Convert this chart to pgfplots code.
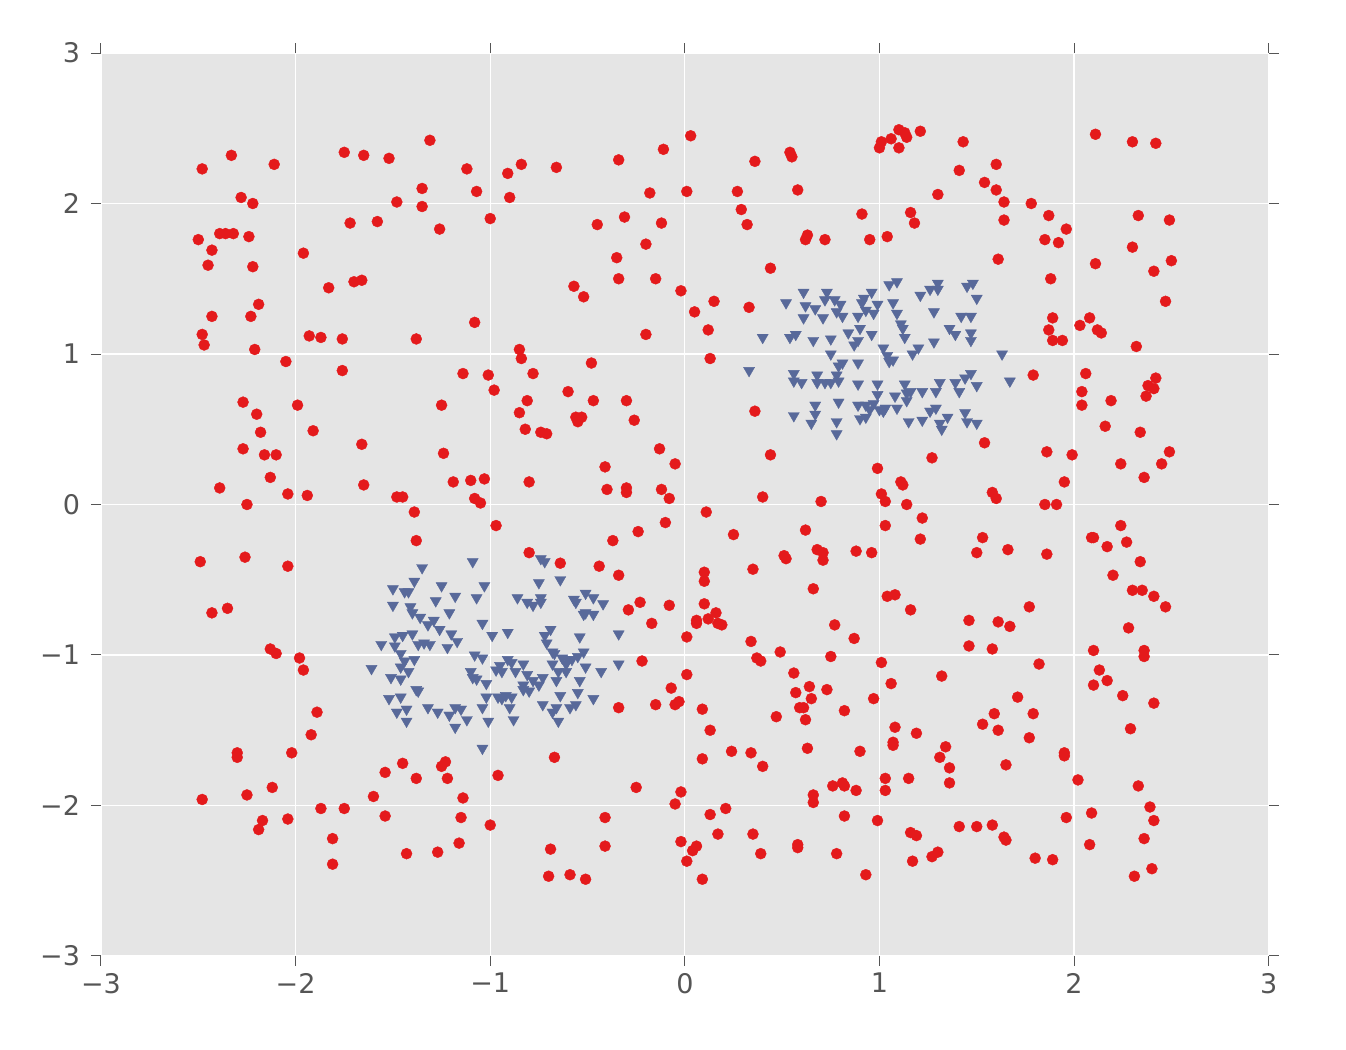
\documentclass[border=0pt]{standalone}
\usepackage{pgfplots}
\pgfplotsset{compat=1.18}
\usepackage{fontspec}
\setmainfont{DejaVu Sans}
\definecolor{bg}{HTML}{E5E5E5}
\definecolor{tk}{HTML}{555555}
\definecolor{redp}{HTML}{E41A1C}
\definecolor{bluep}{HTML}{58699A}
\begin{document}
\begin{tikzpicture}
\path[use as bounding box] (0,0) rectangle (673pt,525pt);
\begin{axis}[
  at={(50.5pt,47pt)}, anchor=south west,
  width=583.85pt, height=451.5pt, scale only axis,
  xmin=-3, xmax=3, ymin=-3, ymax=3,
  axis background/.style={fill=bg},
  axis line style={draw=none},
  grid=major, major grid style={white, line width=0.6pt},
  tick align=outside, tick pos=both, major tick length=5pt,
  every tick/.style={tk, line width=0.5pt},
  xtick={-3,-2,-1,0,1,2,3}, ytick={-3,-2,-1,0,1,2,3},
  xticklabels={−3,−2,−1,0,1,2,3},
  yticklabels={−3,−2,−1,0,1,2,3},
  ticklabel style={font=\fontsize{13.5}{16}\selectfont, text=tk},
  yticklabel style={xshift=-2pt},
]
\addplot[only marks, mark=*, mark size=2.75pt, mark options={fill=redp, draw=redp, line width=0.2pt}] coordinates {
(-2.48,2.23) (-2.33,2.32) (-2.50,1.76) (-2.43,1.69) (-2.45,1.59) (-2.39,1.80) (-2.36,1.80) (-2.32,1.80) (-2.28,2.04) (-2.22,2.00) (-2.24,1.78) (-2.22,1.58) (-2.19,1.33) (-2.23,1.25) (-2.43,1.25) (-2.48,1.13) (-2.47,1.06) (-2.21,1.03) (-2.11,2.26) (-2.05,0.95) (-2.27,0.68) (-2.20,0.60) (-2.18,0.48) (-2.27,0.37) (-2.16,0.33) (-2.10,0.33) (-2.13,0.18) (-2.39,0.11) (-2.04,0.07) (-2.25,0.00) (-2.49,-0.38) (-2.26,-0.35) (-2.04,-0.41) (-2.35,-0.69) (-2.43,-0.72) (-2.13,-0.96) (-2.10,-0.99) (-2.30,-1.65) (-2.30,-1.68) (-2.12,-1.88) (-2.25,-1.93) (-2.48,-1.96) (-2.17,-2.10) (-2.19,-2.16) (-2.04,-2.09)
(-1.96,1.67) (-1.93,1.12) (-1.87,1.11) (-1.83,1.44) (-1.99,0.66) (-1.91,0.49) (-1.94,0.06) (-1.98,-1.02) (-1.96,-1.10) (-1.89,-1.38) (-1.92,-1.53) (-2.02,-1.65) (-1.87,-2.02) (-1.81,-2.22) (-1.81,-2.39) (-1.75,-2.02) (-1.75,2.34) (-1.65,2.32) (-1.72,1.87) (-1.70,1.48) (-1.66,1.49) (-1.76,1.10) (-1.76,0.89) (-1.66,0.40) (-1.65,0.13) (-1.58,1.88) (-1.52,2.30) (-1.60,-1.94) (-1.54,-1.78) (-1.54,-2.07)
(-1.48,2.01) (-1.48,0.05) (-1.45,0.05) (-1.39,-0.05) (-1.38,-0.24) (-1.45,-1.72) (-1.43,-2.32) (-1.38,-1.82) (-1.38,1.10) (-1.35,2.10) (-1.35,1.98) (-1.31,2.42) (-1.26,1.83) (-1.25,0.66) (-1.24,0.34) (-1.19,0.15) (-1.27,-2.31) (-1.25,-1.74) (-1.23,-1.71) (-1.22,-1.82) (-1.12,2.23) (-1.07,2.08) (-1.14,0.87) (-1.08,1.21) (-1.10,0.16) (-1.08,0.04) (-1.05,0.01) (-1.03,0.17) (-1.15,-2.08) (-1.14,-1.95) (-1.16,-2.25)
(-1.00,1.90) (-0.91,2.20) (-0.90,2.04) (-0.84,2.26) (-1.01,0.86) (-0.98,0.76) (-0.85,1.03) (-0.84,0.97) (-0.85,0.61) (-0.81,0.69) (-0.78,0.87) (-0.82,0.50) (-0.74,0.48) (-0.71,0.47) (-0.80,0.15) (-0.97,-0.14) (-0.80,-0.32) (-0.96,-1.80) (-1.00,-2.13) (-0.67,-1.68) (-0.69,-2.29) (-0.70,-2.47) (-0.66,2.24) (-0.60,0.75) (-0.64,-0.39) (-0.57,1.45) (-0.52,1.38) (-0.56,0.58) (-0.53,0.58) (-0.55,0.55) (-0.59,-2.46) (-0.51,-2.49)
(-0.48,0.94) (-0.47,0.69) (-0.45,1.86) (-0.44,-0.41) (-0.41,0.25) (-0.40,0.10) (-0.37,-0.24) (-0.34,2.29) (-0.35,1.64) (-0.34,1.50) (-0.31,1.91) (-0.30,0.69) (-0.30,0.11) (-0.30,0.08) (-0.34,-0.47) (-0.29,-0.70) (-0.26,0.56) (-0.23,-0.65) (-0.24,-0.18) (-0.22,-1.04) (-0.25,-1.88) (-0.41,-2.08) (-0.41,-2.27) (-0.34,-1.35) (-0.20,1.13) (-0.20,1.73) (-0.18,2.07) (-0.17,-0.79) (-0.15,1.50) (-0.15,-1.33) (-0.13,0.37) (-0.12,0.10) (-0.11,2.36) (-0.12,1.87) (-0.10,-0.12) (-0.08,0.04) (-0.08,-0.67) (-0.07,-1.22) (-0.05,-1.33) (-0.03,-1.31) (-0.05,0.27) (-0.02,1.42) (-0.02,-1.91) (-0.05,-1.99) (-0.02,-2.24) (0.01,-0.88) (0.01,-1.13) (0.01,2.08) (0.03,2.45) (0.01,-2.37)
(0.05,1.28) (0.06,-0.79) (0.06,-0.77) (0.04,-2.30) (0.06,-2.27) (0.09,-2.49) (0.09,-1.36) (0.09,-1.69) (0.10,-0.66) (0.10,-0.45) (0.10,-0.51) (0.11,-0.05) (0.12,1.16) (0.13,0.97) (0.12,-0.76) (0.13,-1.50) (0.13,-2.06) (0.15,1.35) (0.16,-0.72) (0.17,-2.19) (0.17,-0.79) (0.19,-0.80) (0.21,-2.02) (0.24,-1.64) (0.25,-0.20) (0.27,2.08) (0.29,1.96) (0.32,1.86) (0.34,-0.91) (0.33,1.31) (0.35,-0.43) (0.34,-1.65) (0.35,-2.19) (0.36,2.28) (0.36,0.62) (0.37,-1.02) (0.39,-1.04) (0.40,-1.74) (0.39,-2.32) (0.40,0.05) (0.44,1.57) (0.44,0.33) (0.47,-1.41) (0.49,-0.98)
(0.51,-0.34) (0.52,-0.36) (0.54,2.34) (0.55,2.31) (0.58,2.09) (0.56,-1.12) (0.57,-1.25) (0.58,-2.26) (0.58,-2.28) (0.59,-1.35) (0.61,-1.35) (0.62,-1.43) (0.62,-0.17) (0.62,1.76) (0.63,1.79) (0.63,-1.62) (0.64,-1.21) (0.65,-1.29) (0.66,-0.56) (0.66,-1.93) (0.66,-1.98) (0.68,-0.30) (0.71,-0.32) (0.71,-0.37) (0.70,0.02) (0.72,1.76) (0.73,-1.23) (0.75,-1.01) (0.77,-0.80) (0.76,-1.87) (0.78,-2.32) (0.81,-1.85) (0.82,-1.37) (0.82,-2.07) (0.82,-1.87) (0.87,-0.89) (0.88,-0.31) (0.90,-1.64) (0.88,-1.90) (0.91,1.93) (0.93,-2.46) (0.95,1.76) (0.96,-0.32) (0.97,-1.29) (0.99,0.24) (0.99,-2.10)
(1.00,2.37) (1.01,2.41) (1.06,2.43) (1.01,-1.05) (1.01,0.07) (1.03,-0.14) (1.04,1.78) (1.03,0.02) (1.04,-0.61) (1.03,-1.82) (1.03,-1.90) (1.06,-1.19) (1.07,-1.58) (1.07,-1.60) (1.08,-1.48) (1.08,-0.60) (1.10,2.49) (1.10,2.37) (1.11,0.15) (1.12,0.13) (1.13,2.47) (1.14,2.44) (1.14,0.00) (1.16,-0.70) (1.15,-1.82) (1.16,1.94) (1.18,1.87) (1.16,-2.18) (1.17,-2.37) (1.19,-2.20) (1.21,2.48) (1.22,-0.09) (1.21,-0.23) (1.19,-1.52) (1.27,0.31) (1.27,-2.34) (1.30,2.06) (1.31,-1.68) (1.32,-1.14) (1.34,-1.61) (1.36,-1.75) (1.36,-1.85) (1.30,-2.31) (1.41,2.22) (1.41,-2.14) (1.43,2.41) (1.46,-0.77) (1.46,-0.94) (1.50,-0.32)
(1.50,-2.14) (1.53,-0.22) (1.54,0.41) (1.54,2.14) (1.53,-1.46) (1.58,-0.96) (1.58,0.08) (1.60,0.04) (1.60,2.09) (1.60,2.26) (1.58,-2.13) (1.59,-1.39) (1.61,-1.50) (1.61,-0.78) (1.61,1.63) (1.64,2.01) (1.64,1.89) (1.66,-0.30) (1.65,-1.73) (1.64,-2.21) (1.65,-2.23) (1.67,-0.81) (1.71,-1.28) (1.77,-1.55) (1.78,2.00) (1.77,-0.68) (1.79,0.86) (1.79,-1.39) (1.80,-2.35) (1.82,-1.06) (1.85,1.76) (1.85,0.00) (1.86,0.35) (1.86,-0.33) (1.87,1.92) (1.87,1.16) (1.88,1.50) (1.89,1.24) (1.89,1.09) (1.89,-2.36) (1.91,0.00) (1.92,1.74) (1.94,1.09) (1.95,-1.65) (1.95,-1.67) (1.96,1.83) (1.95,0.15) (1.96,-2.08) (1.99,0.33)
(2.02,-1.83) (2.03,1.19) (2.04,0.75) (2.04,0.66) (2.06,0.87) (2.08,1.24) (2.08,-2.26) (2.09,-0.22) (2.10,-0.22) (2.10,-1.20) (2.10,-0.97) (2.09,-2.05) (2.11,2.46) (2.11,1.60) (2.12,1.16) (2.13,-1.10) (2.14,1.14) (2.16,0.52) (2.17,-0.28) (2.17,-1.17) (2.19,0.69) (2.20,-0.47) (2.24,-0.14) (2.24,0.27) (2.25,-1.27) (2.27,-0.25) (2.28,-0.82) (2.29,-1.49) (2.30,2.41) (2.30,1.71) (2.30,-0.57) (2.31,-2.47) (2.32,1.05) (2.33,-1.87) (2.33,1.92) (2.34,0.48) (2.34,-0.38) (2.35,-0.57) (2.36,-0.97) (2.36,-1.01) (2.36,-2.22) (2.36,0.18) (2.37,0.72) (2.38,0.79) (2.39,-2.01) (2.40,-2.42) (2.41,0.77) (2.41,-0.61) (2.41,-2.10) (2.41,-1.32) (2.41,1.55) (2.42,0.84) (2.42,2.40) (2.45,0.27) (2.47,1.35) (2.47,-0.68) (2.49,1.89) (2.50,1.62) (2.49,0.35)
};
\addplot[only marks, mark=triangle*, mark size=3.2pt, mark options={rotate=180, fill=bluep, draw=bluep, line width=0.2pt}] coordinates {
(0.61,1.41) (0.73,1.41) (0.52,1.34) (0.62,1.32) (0.72,1.36) (0.77,1.36) (0.80,1.33) (0.67,1.30) (0.71,1.24) (0.61,1.24) (0.78,1.28) (0.81,1.25) (0.92,1.37) (0.96,1.41) (0.91,1.34) (0.93,1.29) (0.97,1.27) (0.89,1.25) (0.99,1.33) (0.90,1.17) (0.84,1.14) (0.89,1.09) (0.87,1.06) (0.96,1.13) (0.40,1.11) (0.54,1.11) (0.57,1.13) (0.66,1.09) (0.75,1.10) (0.75,1.00) (0.81,0.94) (0.79,0.92) (0.89,0.94) (0.33,0.89) (0.56,0.87) (0.56,0.82) (0.60,0.81) (0.68,0.86) (0.68,0.81) (0.72,0.81) (0.75,0.81) (0.78,0.86) (0.79,0.82) (0.89,0.80) (0.99,0.80) (0.99,0.73) (0.67,0.66) (0.67,0.60) (0.65,0.54) (0.56,0.59) (0.79,0.68) (0.78,0.55) (0.78,0.47) (0.89,0.66) (0.93,0.66) (0.97,0.67) (0.95,0.63) (1.00,0.63) (0.90,0.57) (0.93,0.58)
(1.05,1.46) (1.09,1.48) (1.30,1.47) (1.26,1.43) (1.30,1.43) (1.21,1.39) (1.45,1.45) (1.48,1.47) (1.50,1.37) (1.07,1.34) (1.09,1.27) (1.28,1.28) (1.11,1.20) (1.12,1.17) (1.42,1.25) (1.47,1.25) (1.36,1.17) (1.39,1.13) (1.47,1.14) (1.47,1.09) (1.13,1.11) (1.28,1.08) (1.02,1.04) (1.04,0.99) (1.07,0.96) (1.05,0.95) (1.17,1.00) (1.20,1.04) (1.63,1.00) (1.67,0.82) (1.13,0.80) (1.31,0.81) (1.39,0.81) (1.44,0.84) (1.47,0.87) (1.50,0.79) (1.41,0.75) (1.08,0.72) (1.14,0.74) (1.16,0.75) (1.22,0.75) (1.29,0.75) (1.14,0.69) (1.03,0.64) (1.09,0.64) (1.02,0.62) (1.29,0.64) (1.26,0.62) (1.15,0.55) (1.22,0.56) (1.31,0.54) (1.35,0.58) (1.32,0.50) (1.44,0.61) (1.45,0.55) (1.50,0.54)
(-1.09,-0.38) (-1.35,-0.42) (-1.39,-0.51) (-1.50,-0.56) (-1.44,-0.58) (-1.42,-0.58) (-1.25,-0.54) (-1.18,-0.61) (-1.03,-0.54) (-1.07,-0.62) (-1.50,-0.67) (-1.41,-0.68) (-1.40,-0.72) (-1.36,-0.75) (-1.28,-0.64) (-1.21,-0.72) (-1.29,-0.77) (-1.32,-0.80) (-1.26,-0.83) (-1.20,-0.86) (-1.17,-0.91) (-1.04,-0.79) (-0.99,-0.87) (-1.49,-0.88) (-1.45,-0.87) (-1.40,-0.86) (-1.56,-0.93) (-1.49,-0.94) (-1.46,-0.99) (-1.37,-0.93) (-1.34,-0.92) (-1.31,-0.93) (-1.22,-0.95) (-1.39,-1.03) (-1.44,-1.04) (-1.46,-1.08) (-1.42,-1.11) (-1.61,-1.09) (-1.51,-1.15) (-1.46,-1.16) (-1.38,-1.23) (-1.37,-1.24) (-1.52,-1.29) (-1.46,-1.28) (-1.48,-1.38) (-1.43,-1.36) (-1.43,-1.44) (-1.32,-1.35) (-1.27,-1.38) (-1.21,-1.40) (-1.18,-1.35) (-1.15,-1.36) (-1.12,-1.43) (-1.18,-1.48) (-1.08,-1.00) (-1.04,-1.02) (-1.10,-1.11) (-1.09,-1.15) (-1.07,-1.16) (-1.02,-1.19) (-0.97,-1.10) (-1.02,-1.28) (-1.04,-1.35) (-1.01,-1.44) (-1.04,-1.62) (-0.96,-1.28)
(-0.74,-0.36) (-0.72,-0.38) (-0.75,-0.52) (-0.64,-0.50) (-0.86,-0.62) (-0.81,-0.65) (-0.78,-0.67) (-0.74,-0.62) (-0.74,-0.65) (-0.57,-0.63) (-0.56,-0.65) (-0.51,-0.59) (-0.47,-0.62) (-0.42,-0.66) (-0.51,-0.72) (-0.52,-0.73) (-0.47,-0.73) (-0.91,-0.85) (-0.69,-0.83) (-0.72,-0.87) (-0.71,-0.92) (-0.54,-0.88) (-0.34,-0.86) (-0.68,-0.98) (-0.67,-0.99) (-0.63,-1.02) (-0.60,-1.03) (-0.58,-1.03) (-0.55,-1.01) (-0.52,-0.98) (-0.61,-1.06) (-0.68,-1.06) (-0.65,-1.11) (-0.61,-1.11) (-0.51,-1.08) (-0.43,-1.11) (-0.34,-1.06) (-0.91,-1.03) (-0.89,-1.05) (-0.95,-1.07) (-0.94,-1.11) (-0.87,-1.11) (-0.83,-1.06) (-0.81,-1.13) (-0.78,-1.17) (-0.75,-1.20) (-0.73,-1.15) (-0.83,-1.20) (-0.83,-1.23) (-0.80,-1.24) (-0.66,-1.17) (-0.54,-1.17) (-0.64,-1.27) (-0.55,-1.25) (-0.92,-1.27) (-0.89,-1.28) (-0.94,-1.29) (-0.90,-1.35) (-0.73,-1.33) (-0.68,-1.38) (-0.66,-1.35) (-0.59,-1.35) (-0.56,-1.33) (-0.47,-1.29) (-0.88,-1.43) (-0.65,-1.44)
};
\end{axis}
\end{tikzpicture}
\end{document}
